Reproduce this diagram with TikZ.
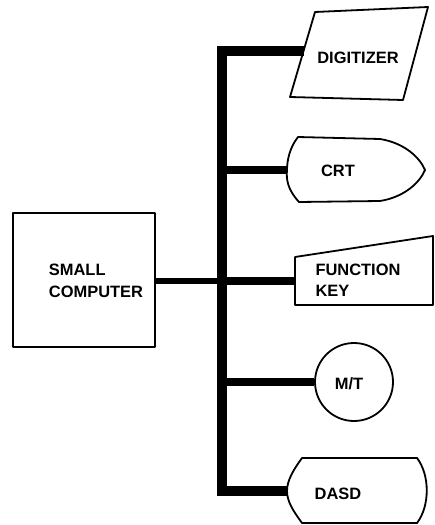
\documentclass[tikz,border=0pt]{standalone}
\usepackage{fontspec}
\setmainfont{Liberation Sans}
\begin{document}
\begin{tikzpicture}[x=1bp,y=-1bp,
  bus/.style={line width=9.5bp, line join=miter},
  branch/.style={line width=8bp},
  feed/.style={line width=6.5bp},
  outline/.style={draw, line width=1.8bp, line join=round},
  lbl/.style={font=\fontsize{16.5}{21.5}\selectfont\bfseries, align=left, inner sep=0pt}]
\useasboundingbox (0,0) rectangle (435,525);

% small computer
\node[outline, rectangle, minimum width=142bp, minimum height=134bp, inner sep=0pt] (comp) at (84,280) {};
\node[lbl] (complbl) at (96,281) {SMALL\\COMPUTER};

% digitizer (parallelogram)
\draw[outline] (315,12) coordinate (dig-nw) -- (428,7) -- (403,100) -- (290,97) coordinate (dig-sw) -- cycle;
\coordinate (dig-w) at (304,51);
\node[lbl] (diglbl) at (358,58) {DIGITIZER};

% CRT
\draw[outline] (298,137) -- (380,139) .. controls (405,143) and (420,158) .. (425,170)
  .. controls (420,182) and (405,197) .. (380,201) -- (299,202)
  .. controls (288,190) and (286,180) .. (287,170) coordinate (crt-w)
  .. controls (287,160) and (290,147) .. (298,137) -- cycle;
\node[lbl] (crtlbl) at (338,171) {CRT};

% function key
\draw[outline] (295,257) -- (433,236) -- (433,305) -- (295,305) -- cycle;
\coordinate (fk-w) at (295,281);
\node[lbl] (fklbl) at (358,280) {FUNCTION\\KEY};

% M/T
\node[outline, circle, minimum size=78bp, inner sep=0pt] (mt) at (354,382) {};
\node[lbl] (mtlbl) at (349,384) {M/T};

% DASD
\draw[outline] (302,458) -- (417,458) .. controls (430,475) and (430,506) .. (417,523)
  -- (302,523) .. controls (294,512) and (287,502) .. (287,491) coordinate (dasd-w)
  .. controls (287,480) and (294,469) .. (302,458) -- cycle;
\node[lbl] (dasdlbl) at (338,494) {DASD};

% bus
\coordinate (btop) at (222,51);
\coordinate (bbot) at (222,491);
\coordinate (bcrt) at (222,170);
\coordinate (bfk) at (222,281);
\coordinate (bmt) at (222,382);
\draw[bus] (dig-w) -- (btop) -- (bbot) -- (dasd-w);
\draw[branch] (bcrt) -- (crt-w);
\draw[branch] (bfk) -- (fk-w);
\draw[branch] (bmt) -- (mt.west);
\draw[feed] (comp.east |- bfk) -- (bfk);
\end{tikzpicture}
\end{document}
